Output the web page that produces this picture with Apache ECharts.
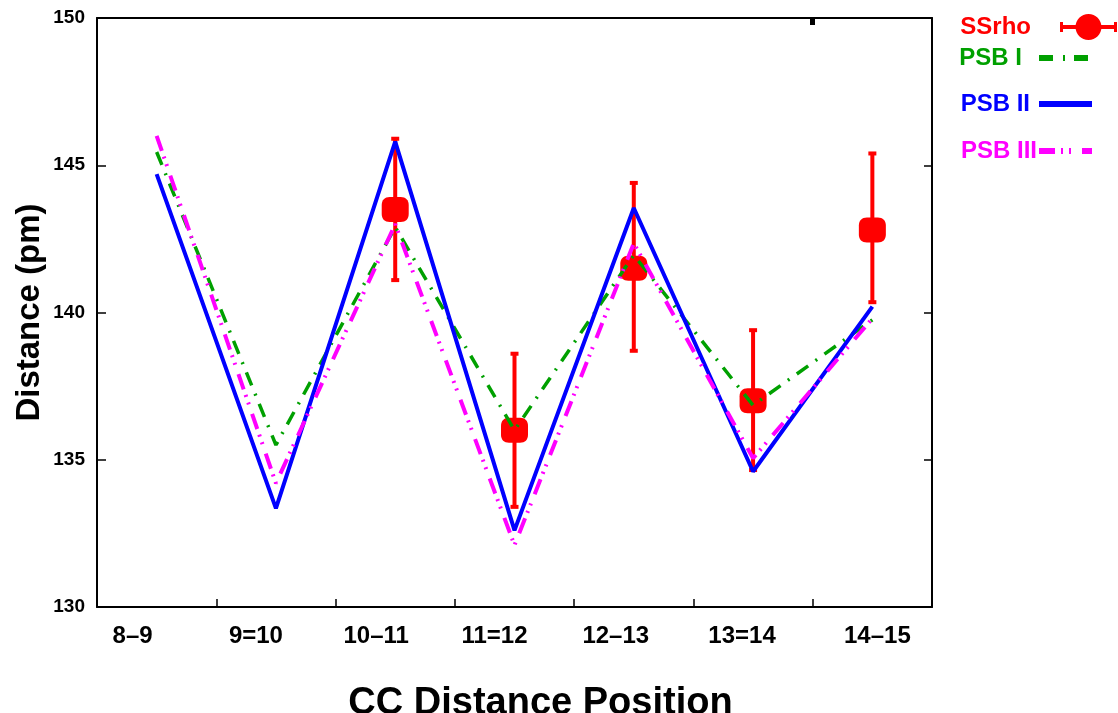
<!DOCTYPE html>
<html>
<head>
<meta charset="utf-8">
<script src="https://cdn.jsdelivr.net/npm/echarts@6/dist/echarts.min.js"></script>
<style>
  html, body { margin: 0; padding: 0; background: #ffffff; }
  #chart { width: 1118px; height: 713px; }
</style>
</head>
<body>
<div id="chart"></div>
<script>
// C–C bond positions along the chain
const categories = ['8–9', '9=10', '10–11', '11=12', '12–13', '13=14', '14–15'];

// computed distances (pm)
const psb1 = [145.45, 135.5, 142.9, 136.0, 141.95, 136.85, 139.75];
const psb2 = [144.7, 133.35, 145.8, 132.6, 143.55, 134.6, 140.2];
const psb3 = [146.0, 134.2, 143.0, 132.1, 142.35, 135.05, 139.8];

// measured distances (pm) with their uncertainty range
const ssrho     = [null, null, 143.5, 136.0, 141.5, 137.0, 142.8];
const ssrhoLow  = [null, null, 141.1, 133.4, 138.7, 134.65, 140.35];
const ssrhoHigh = [null, null, 145.9, 138.6, 144.4, 139.4, 145.4];

const yTicks = [130, 135, 140, 145, 150];

// ---- styling ----
const FONT = '"Liberation Sans", Arial, Helvetica, sans-serif';
const RED = '#ff0000', GREEN = '#00a000', BLUE = '#0000ff', MAGENTA = '#ff00ff';
const AXIS_COLOR = '#000000';
// horizontal nudge (px) for each category label
const xLabelShift = [-24, -20, -19, -20, -18, -11, 5];

// line dash patterns (on, off, on, off, ...)
const DASH_PSB1 = [14, 9, 2, 9];
const DASH_PSB3 = [16, 6, 2, 6, 2, 10];

const markerPath = 'path://M8,0H19C24,0 27,3 27,8V17C27,22 24,25 19,25H8C3,25 0,22 0,17V8C0,3 3,0 8,0Z';

function circlePath(cx, cy, r) {
  const k = 0.5523 * r;
  return `M${cx + r},${cy}C${cx + r},${cy + k} ${cx + k},${cy + r} ${cx},${cy + r}` +
         `C${cx - k},${cy + r} ${cx - r},${cy + k} ${cx - r},${cy}` +
         `C${cx - r},${cy - k} ${cx - k},${cy - r} ${cx},${cy - r}` +
         `C${cx + k},${cy - r} ${cx + r},${cy - k} ${cx + r},${cy}Z`;
}
// error-bar style key: bar with end caps and a dot in the middle
const errKeyIcon = 'path://M0,11H57V15H0Z M0,8H3V18H0Z M54,8H57V18H54Z ' + circlePath(28.5, 13, 13);

// legend key made of filled segments: on/off lengths, thickness h
function segmentIcon(segments, h) {
  let x = 0, d = '';
  segments.forEach((len, i) => {
    if (i % 2 === 0) d += `M${x},0H${x + len}V${h}H${x}Z `;
    x += len;
  });
  return 'path://' + d.trim();
}
const keyPsb1 = segmentIcon([14, 10, 2, 9, 14], 6);
const keyPsb2 = segmentIcon([53], 6);
const keyPsb3 = segmentIcon([16, 6, 2, 6, 2, 11, 10], 6);

const richLabels = {};
xLabelShift.forEach((d, i) => {
  richLabels['c' + i] = {
    fontFamily: FONT, fontWeight: 'bold', fontSize: 24, color: '#000',
    padding: d < 0 ? [0, -2 * d, 0, 0] : [0, 0, 0, 2 * d]
  };
});

const errData = categories.map((c, i) => [i, ssrhoLow[i], ssrhoHigh[i]])
  .filter(r => r[1] != null);

function legendBox(name, icon, color, right, top, w, h, textGap) {
  return {
    orient: 'vertical',
    align: 'right',
    selectedMode: false,
    padding: 0,
    itemGap: 0,
    right: right,
    top: top,
    itemWidth: w,
    itemHeight: h,
    data: [{ name: name, icon: icon, itemStyle: { color: color, borderWidth: 0 } }],
    textStyle: {
      fontFamily: FONT, fontWeight: 'bold', fontSize: 24, lineHeight: 24, color: color,
      padding: [0, textGap, 0, 0]
    }
  };
}

const chart = echarts.init(document.getElementById('chart'), null, { renderer: 'canvas' });

chart.setOption({
  animation: false,
  backgroundColor: '#ffffff',
  grid: { left: 97, right: 186, top: 18, bottom: 106, containLabel: false, outerBoundsMode: 'none' },
  legend: [
    legendBox('SSrho',   errKeyIcon, RED,     1,  14, 57, 26, 24),
    legendBox('PSB I',   keyPsb1,    GREEN,   30, 46, 49, 6, 12),
    legendBox('PSB II',  keyPsb2,    BLUE,    26, 92, 53, 6, 4),
    legendBox('PSB III', keyPsb3,    MAGENTA, 26, 139, 53, 6, -3)
  ],
  xAxis: [
    {
      type: 'category',
      data: categories,
      boundaryGap: true,
      position: 'bottom',
      name: 'CC Distance Position',
      nameLocation: 'middle',
      nameGap: 78,
      nameMoveOverlap: false,
      nameTextStyle: {
        fontFamily: FONT, fontWeight: 'bold', fontSize: 38, lineHeight: 38, color: '#000',
        padding: [0, 0, 0, 52]
      },
      axisLine: { show: true, lineStyle: { color: AXIS_COLOR, width: 2 } },
      axisTick: { show: true, inside: true, length: 8, lineStyle: { color: AXIS_COLOR, width: 1.5 } },
      axisLabel: {
        margin: 17,
        interval: 0,
        formatter: (v, i) => `{c${i}|${v}}`,
        rich: richLabels
      },
      splitLine: { show: false }
    },
    {
      // top frame edge, measured in category bands
      type: 'value',
      position: 'top',
      min: 0,
      max: categories.length,
      axisLine: { show: true, lineStyle: { color: AXIS_COLOR, width: 2 } },
      axisTick: {
        show: true, inside: true, length: 7,
        customValues: [6],
        lineStyle: { color: AXIS_COLOR, width: 5 }
      },
      axisLabel: { show: false },
      splitLine: { show: false }
    }
  ],
  yAxis: [
    {
      type: 'value',
      min: yTicks[0],
      max: yTicks[yTicks.length - 1],
      interval: 5,
      position: 'left',
      name: 'Distance (pm)',
      nameLocation: 'middle',
      nameGap: 51,
      nameMoveOverlap: false,
      nameTextStyle: { fontFamily: FONT, fontWeight: 'bold', fontSize: 33, lineHeight: 33, color: '#000' },
      axisLine: { show: true, lineStyle: { color: AXIS_COLOR, width: 2 } },
      axisTick: { show: true, inside: true, length: 9, lineStyle: { color: AXIS_COLOR, width: 1.5 } },
      axisLabel: {
        margin: 12,
        fontFamily: FONT, fontWeight: 'bold', fontSize: 19, color: '#000'
      },
      splitLine: { show: false }
    },
    {
      type: 'value',
      min: yTicks[0],
      max: yTicks[yTicks.length - 1],
      interval: 5,
      position: 'right',
      axisLine: { show: true, lineStyle: { color: AXIS_COLOR, width: 2 } },
      axisTick: { show: true, inside: true, length: 8, lineStyle: { color: AXIS_COLOR, width: 1.5 } },
      axisLabel: { show: false },
      splitLine: { show: false }
    }
  ],
  series: [
    {
      name: 'SSrho',
      type: 'custom',
      xAxisIndex: 0,
      yAxisIndex: 0,
      data: errData,
      encode: { x: 0, y: [1, 2] },
      z: 2,
      renderItem: (params, api) => {
        const x = api.value(0);
        const lo = api.coord([x, api.value(1)]);
        const hi = api.coord([x, api.value(2)]);
        return {
          type: 'group',
          children: [
            { type: 'line', shape: { x1: lo[0], y1: lo[1], x2: hi[0], y2: hi[1] },
              style: { stroke: RED, lineWidth: 4 } },
            { type: 'rect', shape: { x: lo[0] - 4, y: lo[1] - 2, width: 8, height: 4 },
              style: { fill: RED } },
            { type: 'rect', shape: { x: hi[0] - 4, y: hi[1] - 2, width: 8, height: 4 },
              style: { fill: RED } }
          ]
        };
      }
    },
    {
      name: 'SSrho',
      type: 'scatter',
      data: ssrho,
      symbol: markerPath,
      symbolSize: [27, 25],
      itemStyle: { color: RED, opacity: 1 },
      z: 3
    },
    {
      name: 'PSB I',
      type: 'line',
      data: psb1,
      symbol: 'none',
      color: GREEN,
      lineStyle: { color: GREEN, width: 3.5, type: DASH_PSB1, cap: 'butt' },
      z: 4
    },
    {
      name: 'PSB II',
      type: 'line',
      data: psb2,
      symbol: 'none',
      color: BLUE,
      lineStyle: { color: BLUE, width: 4, type: 'solid' },
      z: 5
    },
    {
      name: 'PSB III',
      type: 'line',
      data: psb3,
      symbol: 'none',
      color: MAGENTA,
      lineStyle: { color: MAGENTA, width: 4, type: DASH_PSB3, cap: 'butt' },
      z: 6
    }
  ]
});
</script>
</body>
</html>
